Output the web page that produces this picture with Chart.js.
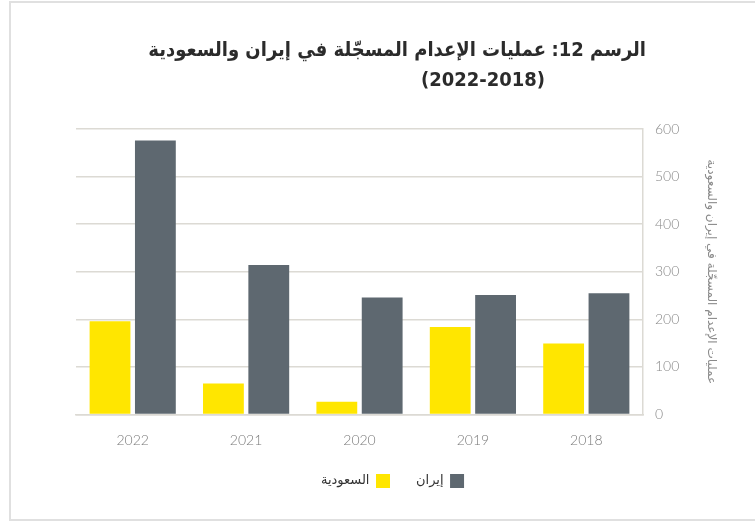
<!DOCTYPE html>
<html><head><meta charset="utf-8">
<script src="https://cdn.jsdelivr.net/npm/chart.js@4.4.1/dist/chart.umd.min.js"></script>
<style>
html,body{margin:0;padding:0;background:#fff;}
#wrap{position:relative;width:755px;height:521px;}
#frame{position:absolute;left:9px;top:1px;width:746px;height:520px;border-left:2px solid #e0e0e0;border-top:2px solid #e0e0e0;border-bottom:2px solid #e0e0e0;box-sizing:border-box;pointer-events:none;}
canvas{display:block}
</style></head><body>
<div id="wrap"><canvas id="c" width="755" height="521"></canvas><div id="frame"></div></div>
<script>
const years = ['2022', '2021', '2020', '2019', '2018'];
const saudiValues = [196, 65, 27, 184, 149];
const iranValues = [576, 314, 246, 251, 255];
const yTickValues = [0, 100, 200, 300, 400, 500, 600];
const seriesNames = ['السعودية', 'إيران'];
const titlePrefix = 'الرسم 12:';
const titleLine1 = 'عمليات الإعدام المسجّلة في إيران والسعودية';
const titleLine2 = '(2022-2018)';
const yAxisTitle = 'عمليات الإعدام المسجّلة في إيران والسعودية';

const arFont = '"DejaVu Sans", "Noto Sans", sans-serif';
const arTitleFont = '"DejaVu Sans Condensed", "DejaVu Sans", sans-serif';
const numFont = 'Lato, "Open Sans", sans-serif';

const titlePlugin = {
  id: 'arTitle',
  afterDraw(chart) {
    const ctx = chart.ctx;
    ctx.save();
    ctx.direction = 'rtl';
    ctx.textAlign = 'right';
    ctx.textBaseline = 'alphabetic';
    ctx.fillStyle = '#2b2b2b';
    ctx.font = 'bold 20px ' + arTitleFont;
    ctx.fillText(titlePrefix, 646, 56);
    ctx.fillText(titleLine1, 546, 56);
    ctx.fillText(titleLine2, 545, 86);
    ctx.restore();
  }
};
const legendShift = {
  id: 'legendShift',
  afterLayout(chart) {
    const l = chart.legend;
    if (l) { l.left -= 23; l.right -= 23; }
  }
};

new Chart(document.getElementById('c'), {
  type: 'bar',
  data: {
    labels: years,
    datasets: [
      { label: seriesNames[0], data: saudiValues, backgroundColor: '#ffe600', borderWidth: 0 },
      { label: seriesNames[1], data: iranValues, backgroundColor: '#5e6870', borderWidth: 0 }
    ]
  },
  options: {
    responsive: false,
    animation: false,
    layout: { padding: { top: 129, left: 76, right: 0, bottom: 23 } },
    scales: {
      x: {
        grid: { display: false, drawTicks: false },
        border: { display: true, color: '#dcdad4', width: 1.5 },
        ticks: { color: '#7a7a7a', font: { family: numFont, size: 14, weight: '300' }, padding: 18 },
        afterFit(s) { s.height = 33.5; }
      },
      y: {
        position: 'right',
        min: 0, max: 600,
        afterBuildTicks(s) { s.ticks = yTickValues.map(v => ({ value: v })); },
        grid: { color: '#dcdad4', lineWidth: 1.5, drawTicks: false },
        border: { display: true, color: '#dcdad4', width: 1.5 },
        ticks: { color: '#8a8a8a', font: { family: numFont, size: 14, weight: '300' }, padding: 12 },
        title: { display: true, text: yAxisTitle, color: '#8a8a8a', font: { family: arFont, size: 12 }, padding: { top: 37, bottom: 0 } },
        afterFit(s) { s.width = 112; }
      }
    },
    plugins: {
      legend: {
        position: 'bottom',
        rtl: true,
        reverse: true,
        textDirection: 'rtl',
        labels: { boxWidth: 14, boxHeight: 14, padding: 26, color: '#333', font: { family: arFont, size: 13 } }
      },
      tooltip: { enabled: false },
      title: { display: false }
    }
  },
  plugins: [titlePlugin, legendShift]
});
</script>
</body></html>
